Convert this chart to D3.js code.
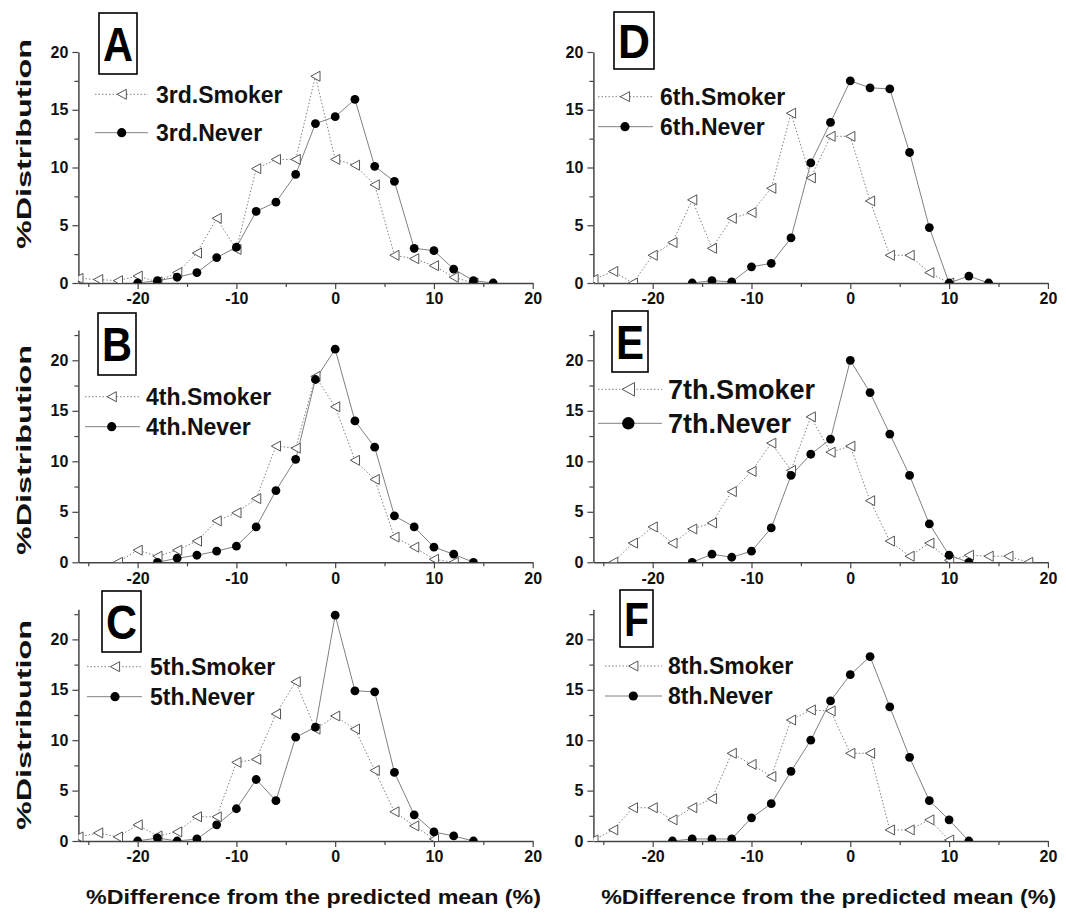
<!DOCTYPE html>
<html><head><meta charset="utf-8">
<script src="https://cdn.jsdelivr.net/npm/d3@7"></script>
<style>
html,body{margin:0;padding:0;background:#fff;}
svg{display:block;font-family:"Liberation Sans",Arial,sans-serif;font-weight:bold;}
</style></head>
<body><svg id="c" width="1066" height="914"></svg>
<script>
// x categories (% difference bins)
const bins = [-26,-24,-22,-20,-18,-16,-14,-12,-10,-8,-6,-4,-2,0,2,4,6,8,10,12,14,16,18];
const xTicks = [-20,-10,0,10,20];
const xMinorTicks = [-25,-15,-5,5,15];
const yTicks = [0,5,10,15,20];

const A_smoker = [0.4,0.3,0.2,0.6,0.1,0.9,2.6,5.6,2.9,9.9,10.7,10.7,17.9,10.7,10.2,8.5,2.4,2.1,1.5,0.5,0,null,null];
const A_never  = [null,null,null,0,0.2,0.5,0.9,2.2,3.1,6.2,7.0,9.4,13.8,14.4,15.9,10.1,8.8,3.0,2.8,1.2,0.2,0,null];
const B_smoker = [null,null,0,1.2,0.6,1.2,2.1,4.1,4.9,6.3,11.5,11.3,18.4,15.4,10.1,8.2,2.5,1.5,0.3,0,null,null,null];
const B_never  = [null,null,null,null,0,0.4,0.7,1.1,1.6,3.5,7.1,10.2,18.1,21.1,14.0,11.4,4.6,3.5,1.5,0.8,0,null,null];
const C_smoker = [0.4,0.8,0.4,1.6,0.5,0.9,2.4,2.4,7.8,8.1,12.6,15.8,11.1,12.4,11.1,7.0,2.9,1.5,0.2,null,null,null,null];
const C_never  = [null,null,null,0,0.3,0,0.2,1.6,3.2,6.1,4.0,10.3,11.3,22.4,14.9,14.8,6.8,2.6,0.9,0.5,0,null,null];
const D_smoker = [0.3,1.0,0,2.4,3.5,7.2,3.0,5.6,6.1,8.2,14.7,9.1,12.7,12.7,7.1,2.4,2.4,0.9,0,null,null,null,null];
const D_never  = [null,null,null,null,null,0,0.2,0.1,1.4,1.7,3.9,10.4,13.9,17.5,16.9,16.8,11.3,4.8,0,0.6,0,null,null];
const E_smoker = [null,0,1.9,3.5,1.9,3.3,3.9,7.0,9.0,11.8,9.1,14.4,10.9,11.5,6.1,2.1,0.6,1.9,0.2,0.7,0.6,0.6,0];
const E_never  = [null,null,null,null,null,0,0.8,0.5,1.1,3.4,8.6,10.7,12.2,20.0,16.8,12.7,8.6,3.8,0.7,0,null,null,null];
const F_smoker = [0.1,1.1,3.3,3.3,2.1,3.3,4.2,8.7,7.6,6.4,12.0,13.0,12.9,8.7,8.7,1.1,1.1,2.1,0.1,null,null,null,null];
const F_never  = [null,null,null,null,0,0.2,0.2,0.2,2.3,3.7,6.9,10.0,13.9,16.5,18.3,13.3,8.3,4.0,2.1,0,null,null,null];

const panelLetters = ["A","B","C","D","E","F"];
const smokerLabels = ["3rd.Smoker","4th.Smoker","5th.Smoker","6th.Smoker","7th.Smoker","8th.Smoker"];
const neverLabels  = ["3rd.Never","4th.Never","5th.Never","6th.Never","7th.Never","8th.Never"];
const yMax = [20,23,23,20,23,23];
const yLabel = "%Distribution";
const xTitle = "%Difference from the predicted mean (%)";

const smokerSeries = [A_smoker,B_smoker,C_smoker,D_smoker,E_smoker,F_smoker];
const neverSeries  = [A_never,B_never,C_never,D_never,E_never,F_never];

// layout
const cols = [{x0:78.4, x1:532.7}, {x0:593.4, x1:1047.9}];
const rows = [{y0:283, ppu:11.55, labY:144}, {y0:562.3, ppu:10.1, labY:450}, {y0:841, ppu:10.08, labY:725}];
const boxes = [[99,13,38,61],[98,313,38,62],[102,591,39,61],[614,12,40,57],[612,311,36,61],[620,590,33,57]];
// legend: lineX1, lineX2, symX, textX, ySmoker, yNever, fontSize, markerScale
const legends = [
  [95,148,121.7,156,94.3,132.7,23,1],
  [85,140,111.7,146,396.7,426.7,23,1],
  [87,142,115,150,666.7,696.7,23,1],
  [598,653,625,660,96.7,126.7,23,1],
  [598,662,628.3,668,389.3,423.3,27,1.35],
  [605,662,633.3,668,666,696,23,1]
];

const svg = d3.select("#c");
const AXC = "#444", LINEC = "#808080";
const fmt = d => String(d);

function tri(s){ const w=4.6*s, h=5*s; return `M${-w},0L${w},${-h}L${w},${h}Z`; }

panelLetters.forEach((L, i) => {
  const col = cols[Math.floor(i/3)], row = rows[i%3];
  const x = d3.scaleLinear().domain([-26,20]).range([col.x0, col.x1]);
  const y = d3.scaleLinear().domain([0, yMax[i]]).range([row.y0, row.y0 - yMax[i]*row.ppu]);
  const g = svg.append("g");

  // clip
  const cid = "clip"+L;
  svg.append("clipPath").attr("id", cid).append("rect")
    .attr("x", x(-26)).attr("y", y(yMax[i]) - 5)
    .attr("width", x(20)-x(-26)).attr("height", y(0) - y(yMax[i]) + 5);

  // axes
  g.append("g").attr("transform", `translate(0,${y(0)})`)
    .call(d3.axisBottom(x).tickValues(xTicks).tickSize(6).tickSizeOuter(0).tickPadding(4).tickFormat(fmt));
  const xm = g.append("g").attr("transform", `translate(0,${y(0)})`)
    .call(d3.axisBottom(x).tickValues(xMinorTicks).tickSize(4).tickSizeOuter(0).tickFormat(""));
  xm.select(".domain").remove();
  g.append("g").attr("transform", `translate(${x(-26)},0)`)
    .call(d3.axisLeft(y).tickValues(yTicks).tickSize(6).tickSizeOuter(0).tickPadding(4).tickFormat(fmt));
  const ym = g.append("g").attr("transform", `translate(${x(-26)},0)`)
    .call(d3.axisLeft(y).tickValues(d3.range(2.5, yMax[i], 5)).tickSize(4).tickSizeOuter(0).tickFormat(""));
  ym.select(".domain").remove();
  g.selectAll(".domain").attr("stroke", AXC).attr("stroke-width", 1.5);
  g.selectAll(".tick line").attr("stroke", AXC).attr("stroke-width", 1.2);
  g.selectAll(".tick text").attr("fill", "#111").style("font-size", "16px")
    .style("font-family", '"Liberation Sans",Arial,sans-serif').style("font-weight", "bold");

  // series
  const plot = g.append("g").attr("clip-path", `url(#${cid})`);
  const sData = bins.map((b,k)=>({x:b, v:smokerSeries[i][k]})).filter(d=>d.v!==null);
  const nData = bins.map((b,k)=>({x:b, v:neverSeries[i][k]})).filter(d=>d.v!==null);
  const line = d3.line().x(d=>x(d.x)).y(d=>y(d.v));
  plot.append("path").datum(sData).attr("d", line).attr("fill","none")
    .attr("stroke", LINEC).attr("stroke-width", 1).attr("stroke-dasharray","1.5,2");
  plot.append("path").datum(nData).attr("d", line).attr("fill","none")
    .attr("stroke", LINEC).attr("stroke-width", 1);
  plot.selectAll(".tri").data(sData).join("path")
    .attr("d", tri(1)).attr("transform", d=>`translate(${x(d.x)},${y(d.v)})`)
    .attr("fill","#fff").attr("stroke","#555").attr("stroke-width",1);
  plot.selectAll(".dot").data(nData).join("circle")
    .attr("cx", d=>x(d.x)).attr("cy", d=>y(d.v)).attr("r", 4.4).attr("fill","#000");

  // panel letter box
  const [bx,by,bw,bh] = boxes[i];
  g.append("rect").attr("x",bx).attr("y",by).attr("width",bw).attr("height",bh)
    .attr("fill","#fff").attr("stroke","#000").attr("stroke-width",1.6);
  g.append("text").attr("x", bx+bw/2).attr("y", by+bh/2).attr("dy","0.36em")
    .attr("text-anchor","middle").style("font-size","48px").attr("fill","#000")
    .attr("textLength", bw-8).attr("lengthAdjust","spacingAndGlyphs").text(L);

  // legend
  const [lx1,lx2,sx,tx,ys,yn,fs,ms] = legends[i];
  g.append("line").attr("x1",lx1).attr("x2",lx2).attr("y1",ys).attr("y2",ys)
    .attr("stroke",LINEC).attr("stroke-width",1).attr("stroke-dasharray","1.5,2");
  g.append("path").attr("d", tri(ms)).attr("transform",`translate(${sx},${ys})`)
    .attr("fill","#fff").attr("stroke","#555").attr("stroke-width",1);
  g.append("text").attr("x",tx).attr("y",ys).attr("dy","0.36em").style("font-size",fs+"px")
    .attr("fill","#111").text(smokerLabels[i]);
  g.append("line").attr("x1",lx1).attr("x2",lx2).attr("y1",yn).attr("y2",yn)
    .attr("stroke",LINEC).attr("stroke-width",1);
  g.append("circle").attr("cx",sx).attr("cy",yn).attr("r",4.6*ms).attr("fill","#000");
  g.append("text").attr("x",tx).attr("y",yn).attr("dy","0.36em").style("font-size",fs+"px")
    .attr("fill","#111").text(neverLabels[i]);

  // y label (left column only)
  if (i < 3) {
    svg.append("text").attr("transform", `translate(31,${row.labY}) rotate(-90)`)
      .attr("text-anchor","middle").style("font-size","20px").attr("fill","#111")
      .attr("textLength", 210).attr("lengthAdjust","spacingAndGlyphs").text(yLabel);
  }
  // x title (bottom row only)
  if (i % 3 === 2) {
    svg.append("text").attr("x", (col.x0+col.x1)/2 + 8).attr("y", 904)
      .attr("text-anchor","middle").style("font-size","20px").attr("fill","#111")
      .attr("textLength", 455).attr("lengthAdjust","spacingAndGlyphs").text(xTitle);
  }
});
</script></body></html>
